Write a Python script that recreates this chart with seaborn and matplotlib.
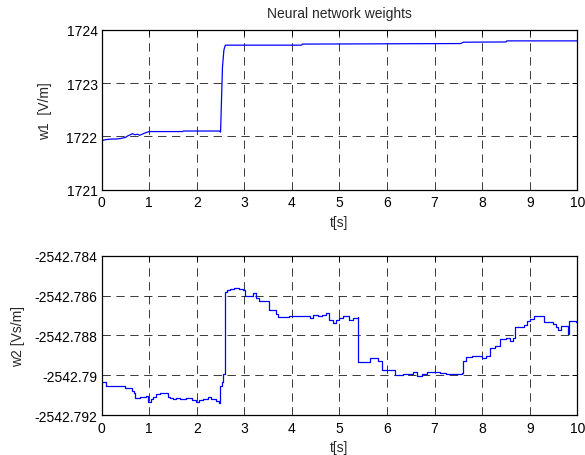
import matplotlib
matplotlib.use("Agg")
import matplotlib.pyplot as plt
import seaborn as sns
import numpy as np

# ---------------- data ----------------
t1 = [0.00, 0.03, 0.10, 0.20, 0.30, 0.40, 0.50, 0.55, 0.60, 0.65, 0.70, 0.75, 0.80,
      0.90, 1.00, 1.70, 1.72, 2.48, 2.50, 2.52, 2.54, 2.57, 2.60, 4.20, 4.22, 7.55,
      7.60, 8.50, 8.52, 10.00]
w1 = [1721.90, 1721.93, 1721.94, 1721.95, 1721.95, 1721.96, 1721.98, 1722.01, 1722.03,
      1722.05, 1722.03, 1722.04, 1722.02, 1722.06, 1722.09, 1722.09, 1722.10, 1722.10,
      1722.08, 1722.70, 1723.30, 1723.62, 1723.71, 1723.71, 1723.73, 1723.74, 1723.765,
      1723.77, 1723.79, 1723.79]

t2 = [0.00, 0.09, 0.49, 0.63, 0.67, 0.70, 0.80, 0.94, 0.98, 1.04, 1.08, 1.15, 1.22,
      1.40, 1.43, 1.50, 1.57, 1.64, 1.78, 1.90, 1.98, 2.05, 2.13, 2.23, 2.30, 2.40,
      2.46, 2.49, 2.53, 2.56, 2.59, 2.63, 2.69, 2.79, 2.88, 2.97, 3.02, 3.10, 3.18,
      3.24, 3.31, 3.51, 3.66, 3.70, 3.94, 4.15, 4.31, 4.38, 4.45, 4.55, 4.63, 4.72,
      4.77, 4.87, 4.93, 5.00, 5.08, 5.19, 5.29, 5.38, 5.40, 5.52, 5.64, 5.82, 5.89,
      6.17, 6.34, 6.48, 6.55, 6.62, 6.73, 6.83, 6.90, 7.11, 7.25, 7.39, 7.57, 7.60,
      7.67, 7.78, 7.88, 8.00, 8.09, 8.16, 8.27, 8.37, 8.51, 8.58, 8.64, 8.69, 8.87,
      8.94, 9.00, 9.10, 9.21, 9.31, 9.49, 9.56, 9.59, 9.66, 9.77, 9.80, 9.82, 9.97,
      10.00]
w2 = [-2542.79033, -2542.79053, -2542.79066, -2542.79078, -2542.79091, -2542.79116,
      -2542.79110, -2542.79106, -2542.79133, -2542.79120, -2542.79111, -2542.79095,
      -2542.79090, -2542.79110, -2542.79116, -2542.79120, -2542.79113, -2542.79120,
      -2542.79116, -2542.79125, -2542.79133, -2542.79125, -2542.79120, -2542.79108,
      -2542.79120, -2542.79128, -2542.79138, -2542.79053, -2542.79036, -2542.78994,
      -2542.78584, -2542.78570, -2542.78567, -2542.78561, -2542.78566, -2542.78570,
      -2542.78601, -2542.78604, -2542.78589, -2542.78614, -2542.78626, -2542.78671,
      -2542.78693, -2542.78706, -2542.78703, -2542.78701, -2542.78705, -2542.78715,
      -2542.78698, -2542.78705, -2542.78700, -2542.78688, -2542.78721, -2542.78738,
      -2542.78725, -2542.78715, -2542.78705, -2542.78725, -2542.78715, -2542.78706,
      -2542.78936, -2542.78932, -2542.78915, -2542.78927, -2542.78974, -2542.78999,
      -2542.78996, -2542.78994, -2542.78986, -2542.79006, -2542.78992, -2542.78986,
      -2542.78982, -2542.78989, -2542.78992, -2542.78994, -2542.78989, -2542.78927,
      -2542.78910, -2542.78905, -2542.78902, -2542.78912, -2542.78902, -2542.78864,
      -2542.78855, -2542.78818, -2542.78815, -2542.78827, -2542.78815, -2542.78760,
      -2542.78748, -2542.78726, -2542.78718, -2542.78705, -2542.78701, -2542.78735,
      -2542.78745, -2542.78760, -2542.78772, -2542.78755, -2542.78751, -2542.78793,
      -2542.78726, -2542.78735, -2542.78735]

x_ticks = [0, 1, 2, 3, 4, 5, 6, 7, 8, 9, 10]
x_ticklabels = ["0", "1", "2", "3", "4", "5", "6", "7", "8", "9", "10"]
w1_ticks = [1721, 1722, 1723, 1724]
w1_ticklabels = ["1721", "1722", "1723", "1724"]
w2_ticks = [-2542.792, -2542.790, -2542.788, -2542.786, -2542.784]
w2_ticklabels = ["-2542.792", "-2542.79", "-2542.788", "-2542.786", "-2542.784"]

title = "Neural network weights"
xlabel = "t[s]"
ylabel1 = "w1  [V/m]"
ylabel2 = "w2 [Vs/m]"

# ---------------- style ----------------
sns.set_style("white")
plt.rcParams["font.family"] = ["Liberation Sans", "DejaVu Sans"]
plt.rcParams["font.size"] = 10
plt.rcParams["lines.scale_dashes"] = False

fig = plt.figure(figsize=(5.85, 4.56), dpi=100)
fig.patch.set_facecolor("white")
ax1 = fig.add_axes([0.1738, 0.5818, 0.8130, 0.3509])
ax2 = fig.add_axes([0.1738, 0.0877, 0.8130, 0.3493])


def style_axes(ax, yticks, yticklabels):
    ax.set_xlim(0, 10)
    ax.set_xticks(x_ticks)
    ax.set_xticklabels(x_ticklabels)
    ax.set_ylim(yticks[0], yticks[-1])
    ax.set_yticks(yticks)
    ax.set_yticklabels(yticklabels)
    ax.grid(True, color="0.1", linestyle=(0, (6.0, 4.0)), linewidth=0.6)
    ax.set_axisbelow(True)
    for s in ax.spines.values():
        s.set_visible(True)
        s.set_color("black")
        s.set_linewidth(0.9)
    ax.tick_params(direction="in", length=3.5, width=0.7, top=True, right=True,
                   labelsize=10, colors="black")
    ax.tick_params(axis="x", pad=4)
    ax.tick_params(axis="y", pad=3)
    ax.set_facecolor("white")


sns.lineplot(x=t1, y=w1, ax=ax1, color="#0000ff", linewidth=0.9,
             estimator=None, sort=False)
sns.lineplot(x=t2, y=w2, ax=ax2, color="#0000ff", linewidth=0.9,
             estimator=None, sort=False, drawstyle="steps-post")

style_axes(ax1, w1_ticks, w1_ticklabels)
style_axes(ax2, w2_ticks, w2_ticklabels)

ax1.set_title(title, fontsize=10, pad=9)
for ax, yl, yx in ((ax1, ylabel1, -0.104), (ax2, ylabel2, -0.161)):
    ax.set_xlabel(xlabel, fontsize=10)
    ax.set_ylabel(yl, fontsize=10)
    ax.xaxis.set_label_coords(0.5, -0.158)
    ax.yaxis.set_label_coords(yx, 0.5)

fig.savefig("out.png", dpi=100, facecolor="white")
